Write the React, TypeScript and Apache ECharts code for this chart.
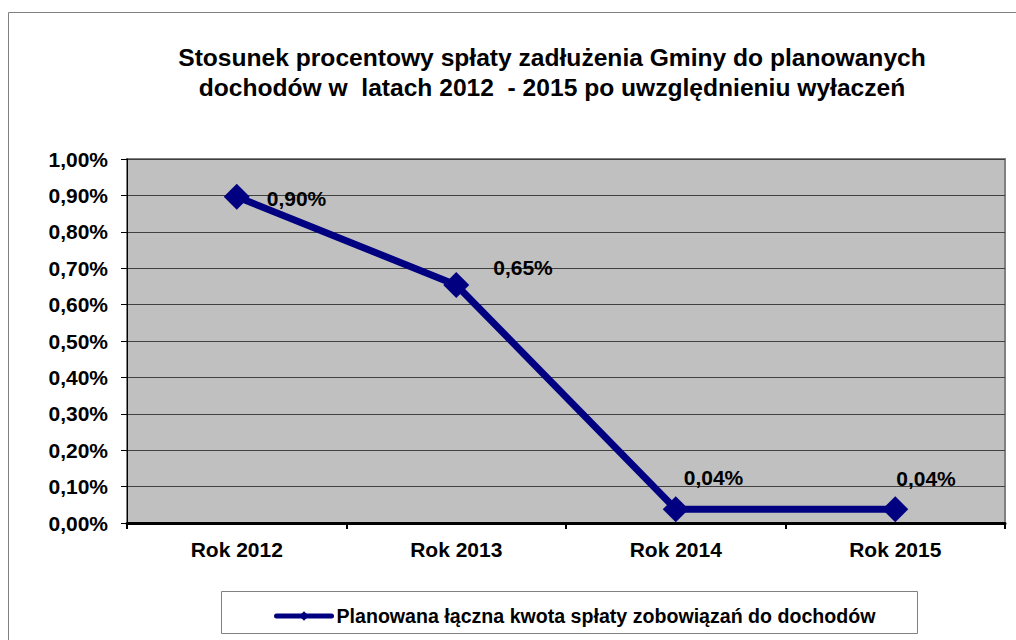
import React, { useEffect, useRef } from "react";
import * as echarts from "echarts";

const titleLines = [
  "Stosunek procentowy spłaty zadłużenia Gminy do planowanych",
  "dochodów w  latach 2012  - 2015 po uwzględnieniu wyłaczeń",
];
const categories = ["Rok 2012", "Rok 2013", "Rok 2014", "Rok 2015"];
const seriesName = "Planowana łączna kwota spłaty zobowiązań do dochodów";
const values = [0.896, 0.654, 0.038, 0.038];
const labelOffsets: [number, number][] = [
  [17, 2],
  [24, -17],
  [-5, -32],
  [-12, -31],
];

const FONT = '"Liberation Sans", Arial, sans-serif';
const fmt = (v: number) => v.toFixed(2).replace(".", ",") + "%";

export default function App() {
  const ref = useRef<HTMLDivElement>(null);
  useEffect(() => {
    if (!ref.current) return;
    const chart = echarts.init(ref.current, null, { renderer: "svg" });
    chart.setOption({
      animation: false,
      backgroundColor: "#ffffff",
      textStyle: { fontFamily: FONT },
      title: {
        text: titleLines.join("\n"),
        left: 552,
        top: 42,
        textAlign: "center",
        padding: 0,
        textStyle: {
          fontFamily: FONT,
          fontWeight: "bold",
          fontSize: 24.6,
          lineHeight: 30,
          color: "#000",
        },
      },
      graphic: [
        {
          type: "rect",
          shape: { x: 8.5, y: 12.5, width: 1020, height: 660 },
          style: { fill: "none", stroke: "#808080", lineWidth: 1 },
          z: -10,
        },
        {
          type: "rect",
          shape: { x: 221.5, y: 591.5, width: 696, height: 42 },
          style: { fill: "#fff", stroke: "#808080", lineWidth: 1 },
          z: -5,
        },
      ],
      legend: {
        left: 274,
        top: 606,
        padding: 0,
        itemWidth: 55,
        itemHeight: 12,
        itemGap: 4,
        data: [seriesName],
        textStyle: {
          fontFamily: FONT,
          fontWeight: "bold",
          fontSize: 19.6,
          color: "#000",
        },
        lineStyle: { width: 5, cap: "round" },
      },
      grid: {
        left: 127,
        right: 11,
        top: 159,
        bottom: 117,
        show: true,
        backgroundColor: "#C0C0C0",
        borderColor: "#808080",
        borderWidth: 2,
      },
      xAxis: {
        type: "category",
        data: categories,
        boundaryGap: true,
        axisLine: { lineStyle: { color: "#000", width: 3 } },
        axisTick: { show: true, length: 6, lineStyle: { color: "#000", width: 2 } },
        axisLabel: {
          margin: 16,
          fontFamily: FONT,
          fontWeight: "bold",
          fontSize: 21,
          color: "#000",
        },
        splitLine: { show: false },
      },
      yAxis: {
        type: "value",
        min: 0,
        max: 1,
        interval: 0.1,
        axisLine: { show: true, lineStyle: { color: "#000", width: 1 } },
        axisTick: { show: true, length: 6, lineStyle: { color: "#000" } },
        axisLabel: {
          margin: 19,
          fontFamily: FONT,
          fontWeight: "bold",
          fontSize: 21,
          color: "#000",
          formatter: (v: number) => fmt(v),
        },
        splitLine: { show: true, lineStyle: { color: "#404040", width: 1 } },
      },
      series: [
        {
          name: seriesName,
          type: "line",
          data: values.map((v, i) => ({
            value: v,
            label: {
              show: true,
              position: "right",
              distance: 0,
              offset: labelOffsets[i],
            },
          })),
          symbol: "diamond",
          symbolSize: 26,
          color: "#000080",
          lineStyle: { color: "#000080", width: 7 },
          itemStyle: { color: "#000080" },
          label: {
            show: true,
            fontFamily: FONT,
            fontWeight: "bold",
            fontSize: 21,
            color: "#000",
            formatter: (p: any) => fmt(p.value),
          },
        },
      ],
    });
    return () => chart.dispose();
  }, []);
  return (
    <div
      ref={ref}
      style={{ position: "absolute", left: 0, top: 0, width: 1016, height: 640 }}
    />
  );
}
